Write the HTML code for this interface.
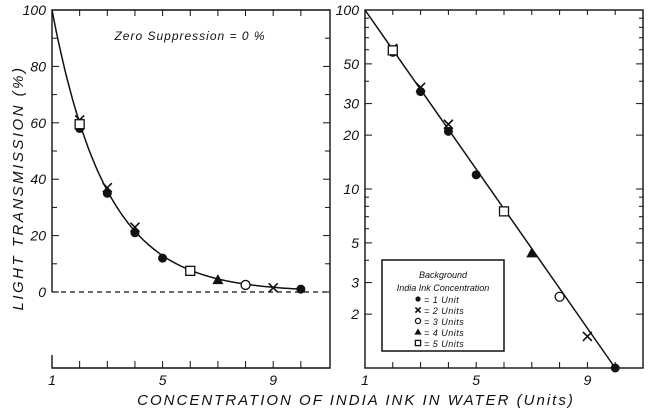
<!DOCTYPE html>
<html><head><meta charset="utf-8"><style>
html,body{margin:0;padding:0;background:#fff;}
svg text{font-family:"Liberation Sans",sans-serif;font-style:italic;fill:#111;}
</style></head><body>
<svg id="c" width="652" height="411" viewBox="0 0 652 411" xmlns="http://www.w3.org/2000/svg"></svg>
<script>
const xs=[2,2,2,3,3,4,4,5,6,7,8,9,10];
const ys=[58,61,59.5,35,37,21,23,12,7.5,4.4,2.5,1.5,1.0];
const series=[1,2,5,1,2,1,2,1,5,4,3,2,1];
const linTicks=[0,20,40,60,80,100];
const logTicks=[2,3,5,10,20,30,50,100];
const xTicks=[1,5,9];
const legendLabels=["= 1  Unit","= 2  Units","= 3  Units","= 4  Units","= 5  Units"];
const fitStart=[1,100], fitEnd=[10,1.0];

const svg=document.getElementById('c');
const NS='http://www.w3.org/2000/svg';
function el(t,a,p){const e=document.createElementNS(NS,t);for(const k in a)e.setAttribute(k,a[k]);(p||svg).appendChild(e);return e;}
const Lx=v=>52+(v-1)*27.65, Ly=v=>292-v*2.82;
const Rx=v=>365+(v-1)*27.8, Ry=v=>368-Math.log10(v)*179;
const S={stroke:'#111','stroke-width':1.4,fill:'none'};

let f=el('path',Object.assign({d:`M52,292 V10 H330 V368 H52 V355`},S));

let z=el('line',{x1:52,y1:292,x2:330,y2:292,stroke:'#111','stroke-width':1.2,'stroke-dasharray':'5,4'});

for(let v=0;v<=100;v+=10){const y=Ly(v),l=v%20==0?7:5;
 el('line',{x1:52,y1:y,x2:52+l,y2:y,stroke:'#111'});el('line',{x1:330,y1:y,x2:330-l,y2:y,stroke:'#111'});}
for(let v=2;v<=10;v++){el('line',{x1:Lx(v),y1:10,x2:Lx(v),y2:16,stroke:'#111'});el('line',{x1:Lx(v),y1:368,x2:Lx(v),y2:361,stroke:'#111'});}
linTicks.forEach(v=>{const t=el('text',{x:46,y:Ly(v)+5,'text-anchor':'end','font-size':14});t.textContent=v;
 });
xTicks.forEach(v=>{const t=el('text',{x:Lx(v),y:385,'text-anchor':'middle','font-size':14});t.textContent=v;
 });
let zs=el('text',{x:190,y:40,'text-anchor':'middle','font-size':12,'letter-spacing':1});zs.textContent='Zero  Suppression  =  0 %';


let rf=el('rect',Object.assign({x:365,y:10,width:278,height:358},S));

for(let d=0;d<2;d++)for(let m=1;m<10;m++){const v=Math.pow(10,d)*m;if(v<=1)continue;const y=Ry(v),l=logTicks.includes(v)?7:4;
 el('line',{x1:365,y1:y,x2:365+l,y2:y,stroke:'#111'});el('line',{x1:643,y1:y,x2:643-l,y2:y,stroke:'#111'});}
for(let v=2;v<=10;v++){el('line',{x1:Rx(v),y1:10,x2:Rx(v),y2:15,stroke:'#111'});el('line',{x1:Rx(v),y1:368,x2:Rx(v),y2:362,stroke:'#111'});}
logTicks.forEach(v=>{if(v==100)return;const t=el('text',{x:359,y:Ry(v)+5,'text-anchor':'end','font-size':14});t.textContent=v;
 });
let t100=el('text',{x:359,y:15,'text-anchor':'end','font-size':14});t100.textContent='100';

xTicks.forEach(v=>{const t=el('text',{x:Rx(v),y:385,'text-anchor':'middle','font-size':14});t.textContent=v;
 });

const k=Math.log(fitStart[1]/fitEnd[1])/(fitEnd[0]-fitStart[0]);
const fit=x=>fitStart[1]*Math.exp(-k*(x-fitStart[0]));
let dl='';for(let x=1;x<=10.0001;x+=0.05)dl+=(dl?'L':'M')+Lx(x).toFixed(1)+','+Ly(fit(x)).toFixed(1);
let c1=el('path',{d:dl,stroke:'#111','stroke-width':1.5,fill:'none'});

let c2=el('path',{d:`M${Rx(1)},${Ry(fit(1))}L${Rx(10)},${Ry(fit(10))}`,stroke:'#111','stroke-width':1.5,fill:'none'});


function marker(s,x,y,r){
 if(s==1)return el('circle',{cx:x,cy:y,r:r,fill:'#111'});
 if(s==3)return el('circle',{cx:x,cy:y,r:r,fill:'#fff',stroke:'#111','stroke-width':1.3});
 if(s==4)return el('path',{d:`M${x},${y-r-1}L${x+r+1},${y+r}L${x-r-1},${y+r}Z`,fill:'#111'});
 if(s==5)return el('rect',{x:x-r,y:y-r,width:2*r,height:2*r,fill:'#fff',stroke:'#111','stroke-width':1.3});
 return el('path',{d:`M${x-r},${y-r}L${x+r},${y+r}M${x+r},${y-r}L${x-r},${y+r}`,stroke:'#111','stroke-width':1.6});
}
xs.forEach((x,i)=>{
 let m=marker(series[i],Lx(x),Ly(ys[i]),4.5);
 
 let m2=marker(series[i],Rx(x),Ry(ys[i]),4.5);
 
});

let lg=el('rect',{x:382,y:260,width:122,height:91,fill:'#fff',stroke:'#111','stroke-width':1.5});

let lt1=el('text',{x:443,y:278,'text-anchor':'middle','font-size':9});lt1.textContent='Background';

let lt2=el('text',{x:443,y:291,'text-anchor':'middle','font-size':9});lt2.textContent='India  Ink  Concentration';

legendLabels.forEach((s,i)=>{const y=300+i*11;
 let m=marker(i+1,418,y-1,2.6);
 let t=el('text',{x:424,y:y+3,'font-size':9,'letter-spacing':0.5});t.textContent=s;
 });

let yt=el('text',{x:0,y:0,'text-anchor':'middle','font-size':15,'letter-spacing':2.5,transform:'translate(23,188) rotate(-90)'});
yt.textContent='LIGHT  TRANSMISSION  (%)';
let xt=el('text',{x:356,y:405,'text-anchor':'middle','font-size':15,'letter-spacing':2});
xt.textContent='CONCENTRATION  OF  INDIA  INK  IN  WATER  (Units)';
</script>
</body></html>
